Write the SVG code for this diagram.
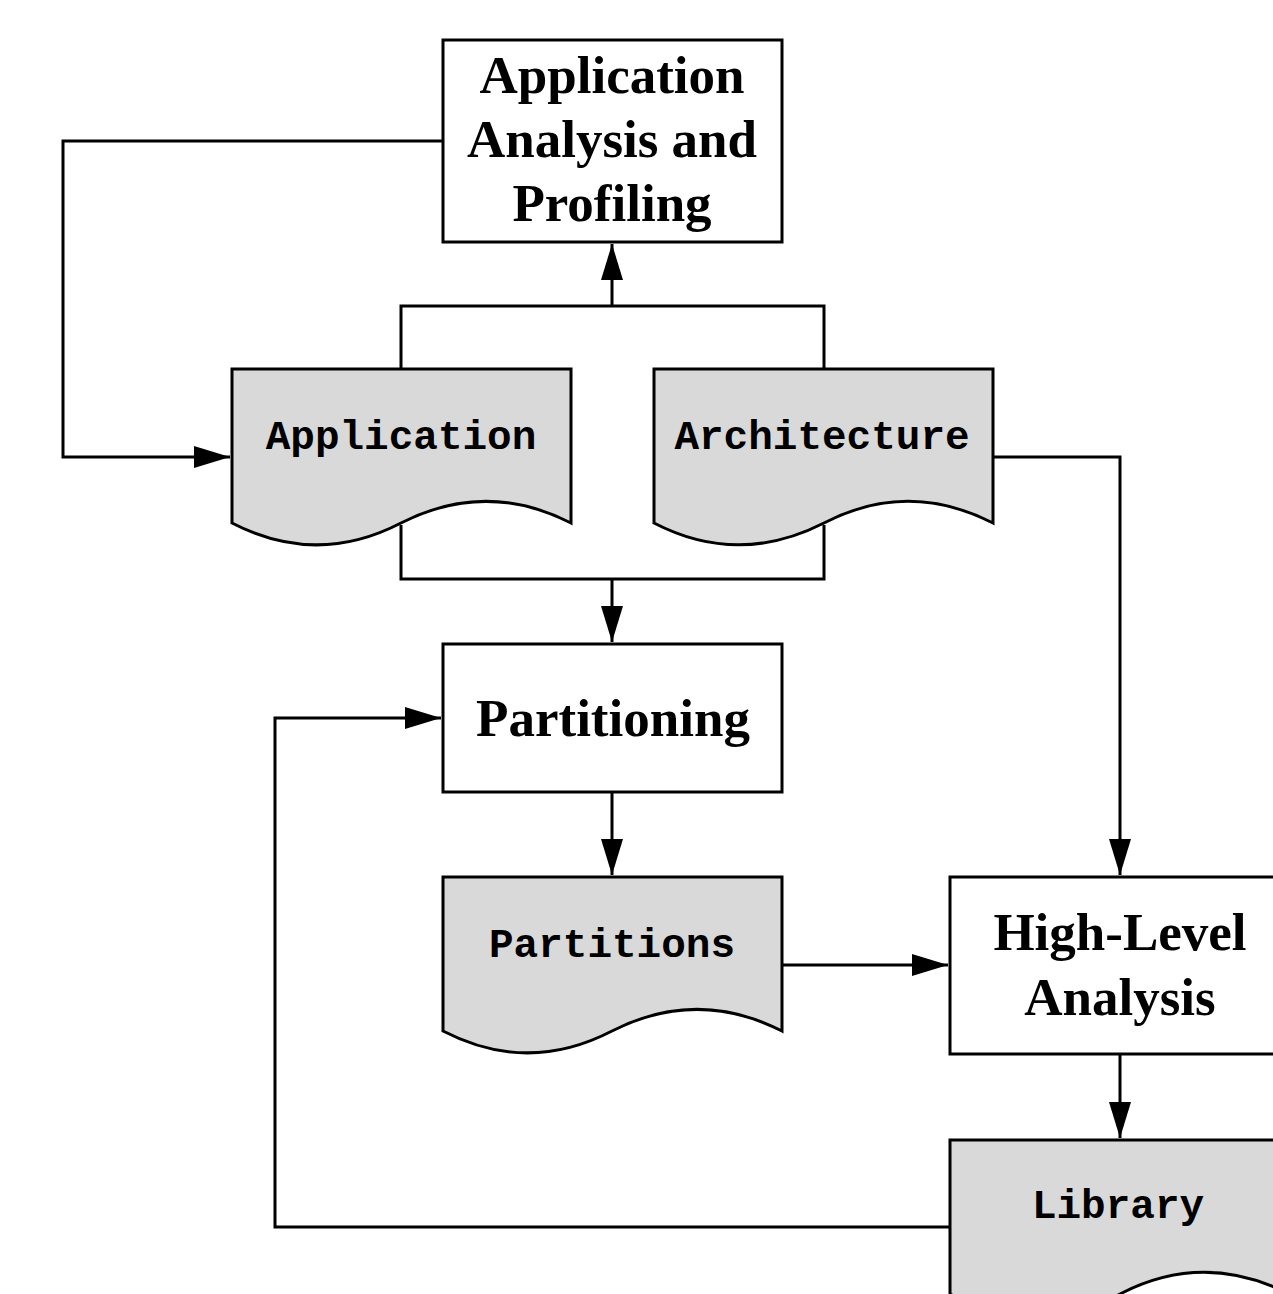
<svg xmlns="http://www.w3.org/2000/svg" width="1273" height="1294" viewBox="0 0 1273 1294">
  <style>
    .box { fill: #ffffff; stroke: #000000; stroke-width: 3; }
    .doc { fill: #d9d9d9; stroke: #000000; stroke-width: 3; stroke-linejoin: miter; }
    .title { font-family: "Liberation Serif", "Times New Roman", serif; font-weight: bold; font-size: 53px; text-anchor: middle; fill: #000000; }
    .data { font-family: "Courier New", "Nimbus Mono PS", "Liberation Mono", monospace; font-weight: bold; font-size: 41px; text-anchor: middle; fill: #000000; }
    .wire { fill: none; stroke: #000000; stroke-width: 3; }
  </style>
  <defs>
    <marker id="arrow" viewBox="0 0 36 22" refX="36" refY="11" markerWidth="36" markerHeight="22" markerUnits="userSpaceOnUse" orient="auto">
      <path d="M0,0 L36,11 L0,22 Z" fill="#000000"/>
    </marker>
  </defs>

  <rect width="1273" height="1294" fill="#ffffff"/>

  <!-- connectors -->
  <g id="connectors">
    <!-- inputs joined to the profiling step -->
    <path class="wire" d="M401,369 V306 H824 V369"/>
    <path class="wire" d="M612,306 V244" marker-end="url(#arrow)"/>
    <!-- profiling feeds back to the application -->
    <path class="wire" d="M443,141 H63 V457 H230" marker-end="url(#arrow)"/>
    <!-- inputs joined to partitioning -->
    <path class="wire" d="M401,525 V579 H824 V525"/>
    <path class="wire" d="M612,579 V642" marker-end="url(#arrow)"/>
    <path class="wire" d="M612,792 V875" marker-end="url(#arrow)"/>
    <!-- architecture to high-level analysis -->
    <path class="wire" d="M993,457 H1120 V875" marker-end="url(#arrow)"/>
    <path class="wire" d="M782,965 H948" marker-end="url(#arrow)"/>
    <path class="wire" d="M1120,1054 V1138" marker-end="url(#arrow)"/>
    <!-- library back to partitioning -->
    <path class="wire" d="M950,1227 H275 V718 H441" marker-end="url(#arrow)"/>
  </g>

  <!-- process: application analysis and profiling -->
  <g id="node-profiling">
    <rect class="box" x="443" y="40" width="339" height="202"/>
    <text class="title" x="612" y="93">Application</text>
    <text class="title" x="612" y="157">Analysis and</text>
    <text class="title" x="612" y="221">Profiling</text>
  </g>

  <!-- document: application -->
  <g id="node-application">
    <path class="doc" d="M232,369 H571 V523 C514,494 458,494 401,523 C345,552 288,552 232,523 Z"/>
    <text class="data" x="401" y="449">Application</text>
  </g>

  <!-- document: architecture -->
  <g id="node-architecture">
    <path class="doc" d="M654,369 H993 V523 C936,494 880,494 824,523 C767,552 710,552 654,523 Z"/>
    <text class="data" x="822" y="449">Architecture</text>
  </g>

  <!-- process: partitioning -->
  <g id="node-partitioning">
    <rect class="box" x="443" y="644" width="339" height="148"/>
    <text class="title" x="613" y="736">Partitioning</text>
  </g>

  <!-- document: partitions -->
  <g id="node-partitions">
    <path class="doc" d="M443,877 H782 V1031 C725,1002 669,1002 612,1031 C556,1060 499,1060 443,1031 Z"/>
    <text class="data" x="612" y="957">Partitions</text>
  </g>

  <!-- process: high-level analysis -->
  <g id="node-highlevel">
    <rect class="box" x="950" y="877" width="339" height="177"/>
    <text class="title" x="1120" y="950">High-Level</text>
    <text class="title" x="1120" y="1015">Analysis</text>
  </g>

  <!-- document: library -->
  <g id="node-library">
    <path class="doc" d="M950,1140 H1289 V1294 C1232,1265 1176,1265 1120,1294 C1063,1323 1006,1323 950,1294 Z"/>
    <text class="data" x="1118" y="1218">Library</text>
  </g>
</svg>
